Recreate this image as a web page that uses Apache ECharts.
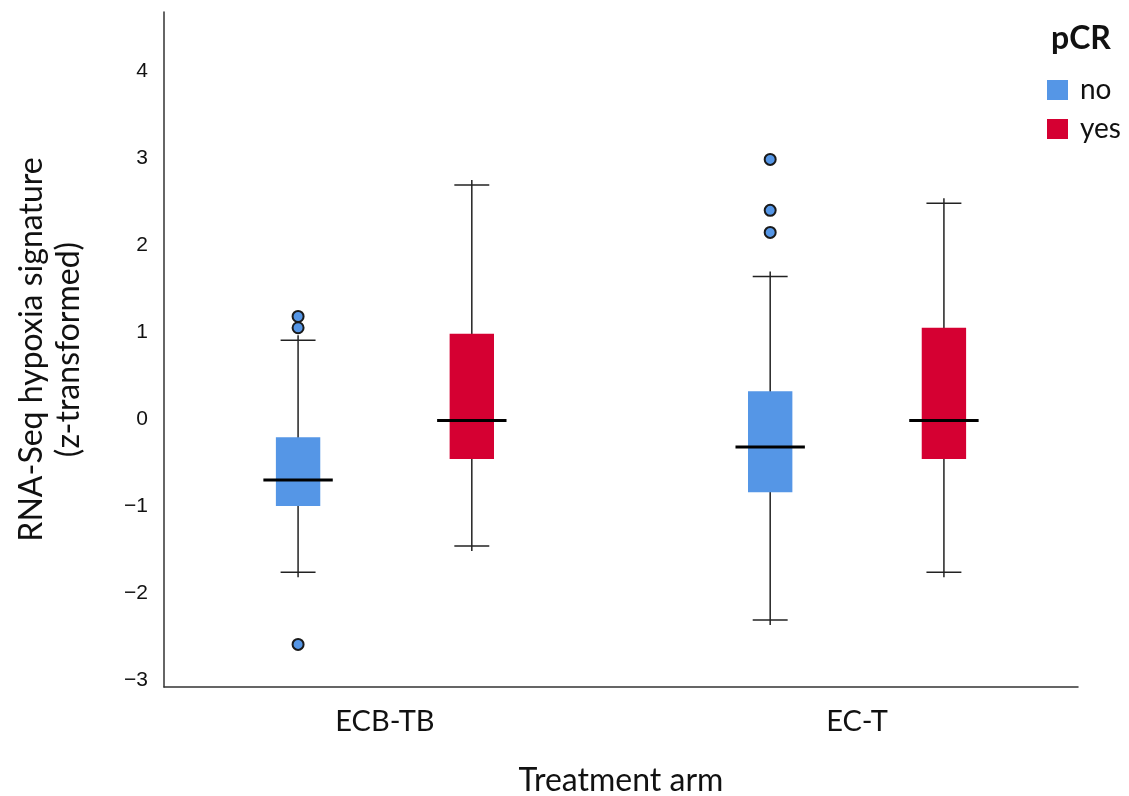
<!DOCTYPE html>
<html>
<head>
<meta charset="utf-8">
<script src="https://cdn.jsdelivr.net/npm/echarts@6/dist/echarts.min.js"></script>
<style>
  html, body { margin: 0; padding: 0; background: #fff; }
  #chart { width: 1129px; height: 796px; }
</style>
</head>
<body>
<div id="chart"></div>
<script>
// treatment arms (x axis)
const categories = ['ECB-TB', 'EC-T'];
// y tick labels
const yTicks = [-3, -2, -1, 0, 1, 2, 3, 4];

// box stats per arm: [armIndex, lowerWhisker, Q1, median, Q3, upperWhisker]
const boxNo = [
  [0, -1.76, -1.00, -0.70, -0.21, 0.905],
  [1, -2.31, -0.84, -0.32, 0.32, 1.64]
];
const boxYes = [
  [0, -1.46, -0.46, -0.015, 0.98, 2.69],
  [1, -1.76, -0.46, -0.015, 1.05, 2.48]
];
// outliers (pCR = no): [armIndex, value]
const outliersNo = [
  [0, 1.18], [0, 1.05], [0, -2.59],
  [1, 2.985], [1, 2.40], [1, 2.146]
];

const colorNo = '#5596E6';
const colorYes = '#D50032';
const font = 'Lato';

// offset of each box from the arm centre, in x-axis units
const OFFSET = 0.184;

function renderBox(offset) {
  return function (params, api) {
    const x = api.value(0) + offset;
    const low = api.coord([x, api.value(1)]);
    const q1 = api.coord([x, api.value(2)]);
    const med = api.coord([x, api.value(3)]);
    const q3 = api.coord([x, api.value(4)]);
    const high = api.coord([x, api.value(5)]);
    const band = api.size([1, 0])[0];
    const boxW = band * 0.094;
    const capW = band * 0.074;
    const medW = band * 0.147;
    const cx = q1[0];
    const stroke = { stroke: '#222', lineWidth: 1.5 };
    return {
      type: 'group',
      children: [
        { type: 'line', shape: { x1: cx, y1: high[1] - 5, x2: cx, y2: low[1] + 5 }, style: stroke },
        { type: 'line', shape: { x1: cx - capW / 2, y1: high[1], x2: cx + capW / 2, y2: high[1] }, style: stroke },
        { type: 'line', shape: { x1: cx - capW / 2, y1: low[1], x2: cx + capW / 2, y2: low[1] }, style: stroke },
        {
          type: 'rect',
          shape: { x: cx - boxW / 2, y: q3[1], width: boxW, height: q1[1] - q3[1] },
          style: { fill: api.visual('color') }
        },
        { type: 'line', shape: { x1: cx - medW / 2, y1: med[1], x2: cx + medW / 2, y2: med[1] }, style: { stroke: '#000', lineWidth: 3 } }
      ]
    };
  };
}

function renderOutlier(offset) {
  return function (params, api) {
    const p = api.coord([api.value(0) + offset, api.value(1)]);
    return {
      type: 'circle',
      shape: { cx: p[0], cy: p[1], r: 5.5 },
      style: { fill: api.visual('color'), stroke: '#1a1a1a', lineWidth: 2 }
    };
  };
}

const chart = echarts.init(document.getElementById('chart'));

const option = {
  backgroundColor: '#fff',
  animation: false,
  title: {
    text: 'pCR',
    left: 1046,
    top: 18,
    textStyle: { fontFamily: font, fontWeight: 'bold', fontSize: 32, color: '#111' }
  },
  legend: {
    data: ['no', 'yes'],
    orient: 'vertical',
    left: 1047,
    top: 76,
    padding: 0,
    icon: 'rect',
    itemWidth: 21,
    itemHeight: 20,
    itemGap: 11,
    textStyle: { fontFamily: font, fontSize: 28, color: '#111', padding: [0, 0, 0, 7] }
  },
  grid: { left: 164, right: 51, top: 12, bottom: 109, outerBoundsMode: 'none', containLabel: false },
  xAxis: {
    type: 'value',
    min: -0.468,
    max: 1.468,
    name: 'Treatment arm',
    nameLocation: 'middle',
    nameGap: 78,
    nameTextStyle: { fontFamily: font, fontSize: 32, color: '#111' },
    axisLine: { show: true, onZero: false, lineStyle: { color: '#333', width: 1.5 } },
    axisTick: { show: false },
    splitLine: { show: false },
    axisLabel: {
      customValues: [0, 1],
      formatter: v => categories[v],
      margin: 20,
      fontFamily: font,
      fontSize: 29,
      color: '#111'
    }
  },
  yAxis: {
    type: 'value',
    min: -3.08,
    max: 4.68,
    name: 'RNA-Seq hypoxia signature\n(z-transformed)',
    nameLocation: 'middle',
    nameGap: 77,
    nameRotate: 90,
    nameTextStyle: { fontFamily: font, fontSize: 32, color: '#111', lineHeight: 37 },
    axisLine: { show: true, onZero: false, lineStyle: { color: '#333', width: 1.5 } },
    axisTick: { show: false },
    splitLine: { show: false },
    axisLabel: {
      customValues: yTicks,
      formatter: v => (v < 0 ? '\u2212' + Math.abs(v) : String(v)),
      margin: 16,
      fontFamily: 'Liberation Sans',
      fontSize: 21,
      color: '#111'
    }
  },
  series: [
    {
      name: 'no',
      type: 'custom',
      itemStyle: { color: colorNo },
      renderItem: renderBox(-OFFSET),
      encode: { x: 0, y: [1, 2, 3, 4, 5] },
      data: boxNo
    },
    {
      name: 'yes',
      type: 'custom',
      itemStyle: { color: colorYes },
      renderItem: renderBox(OFFSET),
      encode: { x: 0, y: [1, 2, 3, 4, 5] },
      data: boxYes
    },
    {
      name: 'no',
      type: 'custom',
      itemStyle: { color: colorNo },
      renderItem: renderOutlier(-OFFSET),
      encode: { x: 0, y: 1 },
      data: outliersNo
    }
  ]
};

chart.setOption(option);
</script>
</body>
</html>
